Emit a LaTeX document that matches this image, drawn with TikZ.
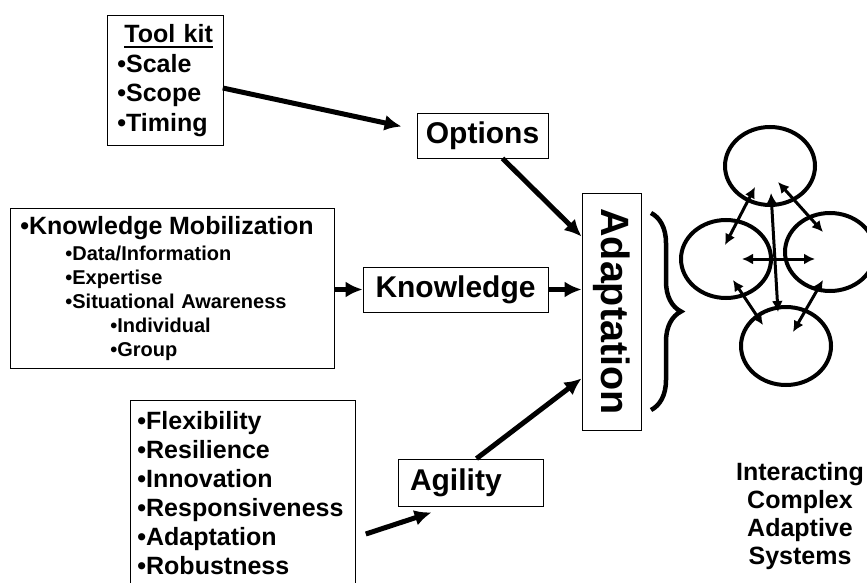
\documentclass[tikz,border=0pt]{standalone}
\usepackage{fontspec}
\usepackage{graphicx}
\setmainfont{Liberation Sans}
\usetikzlibrary{arrows.meta,shapes.geometric,decorations.pathreplacing}
\newlength\ulwidth
\newcommand{\thickul}[1]{\settowidth{\ulwidth}{#1}#1\hspace{-\ulwidth}\rule[-5.5pt]{\ulwidth}{2.2pt}}
\begin{document}
\begin{tikzpicture}[x=1pt,y=-1pt,>={Latex[length=17pt,width=16pt]},
    box/.style={draw,line width=0.8pt,font=\bfseries},
    fat/.style={->,line width=5pt},
    cas/.style={draw,ellipse,line width=4pt,minimum width=90pt,minimum height=78pt,inner sep=0pt,outer sep=0pt},
    link/.style={<->,line width=3pt,>={Latex[length=11pt,width=11pt]}}]
\useasboundingbox (0,0) rectangle (867,583);
\clip (0,0) rectangle (867,583);
% lists on the left
\node[box,anchor=north west,text width=96pt,inner xsep=10pt,inner ysep=9pt,align=left,font=\bfseries\fontsize{25}{29.5}\selectfont] (tools) at (107,15) {\hspace*{7pt}\thickul{Tool kit}\\•Scale\\•Scope\\•Timing};
\node[box,anchor=north west,text width=304pt,inner xsep=10pt,inner ysep=8pt,align=left,font=\bfseries\fontsize{20}{24}\selectfont] (mobil) at (10,208) {{\fontsize{25}{24}\selectfont •Knowledge Mobilization}\\[2pt]
    \hspace*{45pt}•Data/Information\\
    \hspace*{45pt}•Expertise\\
    \hspace*{45pt}•Situational Awareness\\
    \hspace*{90pt}•Individual\\
    \hspace*{90pt}•Group};
\node[box,anchor=north west,text width=211pt,inner xsep=7pt,inner ysep=11pt,align=left,font=\bfseries\fontsize{25}{29}\selectfont] (traits) at (130,400) {•Flexibility\\•Resilience\\•Innovation\\•Responsiveness\\•Adaptation\\•Robustness\\ \mbox{}};
% middle boxes
\node[box,minimum width=131pt,minimum height=45pt,inner sep=0pt,font=\bfseries\fontsize{30}{30}\selectfont] (options) at (482.5,135.5) {Options};
\node[box,minimum width=185pt,minimum height=45pt,inner sep=0pt,font=\bfseries\fontsize{30}{30}\selectfont] (knowledge) at (455.5,289.5) {Knowledge};
\node[box,text width=121pt,inner xsep=12pt,minimum height=47pt,align=left,font=\bfseries\fontsize{30}{30}\selectfont] (agility) at (470.5,482.5) {Agility};
\node[box,minimum width=59pt,minimum height=237pt,inner sep=0pt,font=\bfseries\fontsize{39.5}{39.5}\selectfont] (adapt) at (611.5,311.5) {\rotatebox{-90}{Adaptation}};
% arrows
\draw[fat] ([shift={(-1,73)}]tools.north east) -- ([shift={(-15,-9)}]options.west);
\draw[fat] ([xshift=20pt]options.south) -- ([shift={(0,44)}]adapt.north west);
\draw[fat] (mobil.east |- knowledge.west) -- (knowledge.west);
\draw[fat] (knowledge.east) -- (knowledge.east -| adapt.west);
\draw[fat] ([shift={(10,134)}]traits.north east) -- ([shift={(34,6)}]agility.south west);
\draw[fat] ([xshift=6pt]agility.north) -- ([shift={(0,-52)}]adapt.south west);
\draw[line width=4.5pt,decorate,decoration={brace,amplitude=30pt}] (651,213) -- (651,410);
% the systems
\node[cas] (casN) at (770,166) {};
\node[cas] (casW) at (726,259) {};
\node[cas] (casE) at (830,252) {};
\node[cas] (casS) at (786,346) {};
\draw[link] ([shift={(-15,21)}]casN.center) -- ([shift={(-1,-14)}]casW.center);
\draw[link] ([shift={(8,16)}]casN.center) -- ([shift={(-7,-20)}]casE.center);
\draw[link] ([shift={(1,27)}]casN.center) -- ([shift={(-8,-34)}]casS.center);
\draw[link] ([shift={(16,0)}]casW.center) -- ([shift={(-15,7)}]casE.center);
\draw[link] ([shift={(7,21)}]casW.center) -- ([shift={(-23,-21)}]casS.center);
\draw[link] ([shift={(-7,28)}]casE.center) -- ([shift={(7,-14)}]casS.center);
\node[font=\bfseries\fontsize{25}{28}\selectfont,align=center] (caption) at (800,516) {Interacting\\Complex\\Adaptive\\Systems};
\end{tikzpicture}
\end{document}
